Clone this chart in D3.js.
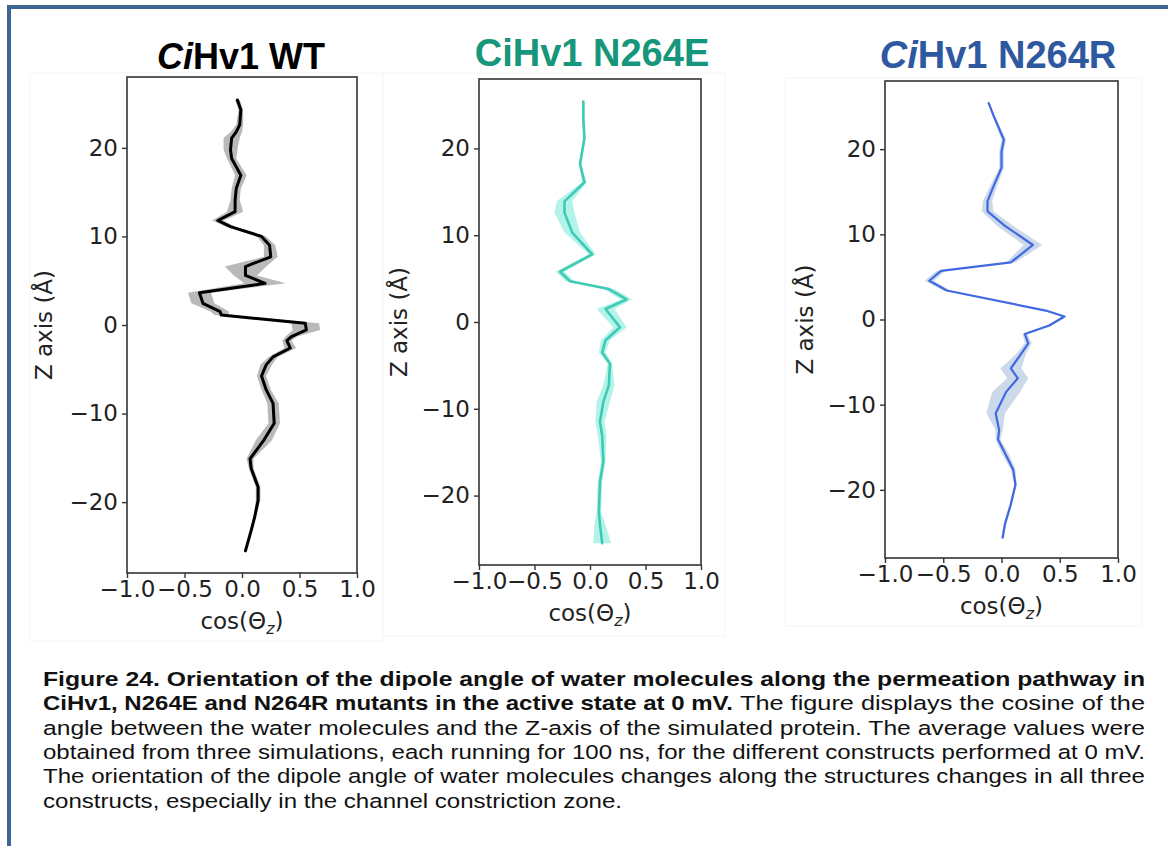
<!DOCTYPE html>
<html><head><meta charset="utf-8">
<script src="https://cdn.jsdelivr.net/npm/d3@7"></script>
<style>
html,body{margin:0;padding:0;background:#fff;}
svg{display:block;}
</style></head>
<body>
<svg id="c" width="1168" height="846"></svg>
<script>
// ---------- DATA ----------
const xTicks = [-1.0, -0.5, 0.0, 0.5, 1.0];
const yTicks = [20, 10, 0, -10, -20];
const titles = ["WT", "N264E", "N264R"];

// CiHv1 WT
const wtZ   = [25.4,24.3,22.6,21.8,21.1,19.8,18.8,16.9,15.4,14.1,12.8,11.8,11.1,10.0,9.0,7.7,6.6,5.6,4.7,3.65,2.45,1.5,1.13,0.2,-0.56,-1.3,-1.77,-2.6,-3.6,-4.5,-5.76,-7.3,-8.85,-11.1,-13.0,-15.1,-16.2,-18.3,-19.8,-21.7,-23.2,-25.5];
const wtCos = [-0.04,-0.01,-0.02,-0.05,-0.09,-0.10,-0.09,-0.01,-0.05,-0.06,-0.06,-0.21,-0.10,0.17,0.24,0.25,0.03,0.03,0.20,-0.37,-0.34,-0.19,-0.18,0.55,0.56,0.43,0.39,0.42,0.27,0.21,0.17,0.21,0.27,0.28,0.19,0.07,0.08,0.14,0.14,0.11,0.08,0.03];
const wtSd  = [0.02,0.02,0.03,0.05,0.07,0.06,0.04,0.05,0.04,0.04,0.07,0.05,0.04,0.04,0.05,0.06,0.18,0.10,0.18,0.10,0.10,0.08,0.06,0.12,0.12,0.05,0.04,0.05,0.04,0.05,0.04,0.04,0.05,0.05,0.07,0.03,0.02,0.02,0.02,0.01,0.01,0.01];

// CiHv1 N264E
const eZ   = [25.4,23.3,21.2,18.2,16.1,13.9,12.6,10.3,7.8,5.8,4.7,3.8,2.6,1.5,-0.6,-2.1,-3.5,-4.8,-7.3,-9.2,-11.5,-13.1,-16.1,-18.4,-21.9,-23.4,-25.5];
const eCos = [-0.06,-0.06,-0.05,-0.09,-0.05,-0.23,-0.23,-0.16,0.02,-0.27,-0.18,0.17,0.33,0.14,0.27,0.14,0.11,0.18,0.17,0.12,0.09,0.11,0.12,0.09,0.08,0.09,0.11];
const eSd  = [0.01,0.01,0.01,0.01,0.02,0.07,0.09,0.07,0.03,0.04,0.04,0.05,0.05,0.08,0.06,0.04,0.03,0.02,0.05,0.06,0.04,0.04,0.02,0.02,0.02,0.05,0.08];

// CiHv1 N264R
const rZ   = [25.4,24.0,21.1,19.7,17.8,15.6,13.9,12.7,11.0,8.75,6.7,5.7,4.55,3.4,1.05,0.35,-0.7,-1.7,-2.8,-4.0,-5.75,-6.9,-8.5,-11.0,-13.0,-14.1,-15.7,-17.6,-19.4,-21.7,-24.0,-25.6];
const rCos = [-0.11,-0.07,0.02,0.0,0.0,-0.07,-0.12,-0.12,0.03,0.27,0.08,-0.52,-0.62,-0.47,0.38,0.54,0.41,0.20,0.23,0.17,0.08,0.14,0.04,-0.05,-0.02,-0.03,0.03,0.10,0.12,0.08,0.03,0.01];
const rSd  = [0.01,0.01,0.02,0.02,0.02,0.03,0.04,0.05,0.07,0.08,0.04,0.04,0.04,0.03,0.02,0.02,0.02,0.02,0.03,0.04,0.09,0.09,0.12,0.08,0.03,0.02,0.03,0.02,0.01,0.01,0.01,0.01];

// ---------- LAYOUT / STYLE ----------
const svg = d3.select("#c");
const tickFont = "'DejaVu Sans', sans-serif";

// outer frame (top + left visible)
svg.append("rect").attr("x", 9).attr("y", 7).attr("width", 1200).attr("height", 900)
  .attr("fill", "none").attr("stroke", "#3e6491").attr("stroke-width", 4);

const panels = [
  {z: wtZ, c: wtCos, sd: wtSd, x0:127, x1:357, y0:77, y1:573, line:"#000000", lw:3, band:"#a8a8a8", bandOp:0.8,
   ylx:52, bg:[30,73,352,568], title:titles[0], tcol:"#000000", tItal:true, tx:241, ty:69, tfs:36},
  {z: eZ, c: eCos, sd: eSd, x0:479, x1:701, y0:79, y1:565, line:"#3fcab4", lw:2.6, band:"#40e0c8", bandOp:0.4,
   ylx:407, bg:[383,73,342,563], title:titles[1], tcol:"#16967a", tItal:false, tx:592, ty:66, tfs:38},
  {z: rZ, c: rCos, sd: rSd, x0:885, x1:1118, y0:81, y1:558, line:"#4169e1", lw:2.2, band:"#b0c4de", bandOp:0.65,
   ylx:813, bg:[785,78,357,548], title:titles[2], tcol:"#2e58a0", tItal:true, tx:998, ty:68, tfs:38}
];

panels.forEach(p => {
  // faint pasted-image outline
  svg.append("rect").attr("x", p.bg[0]).attr("y", p.bg[1]).attr("width", p.bg[2]).attr("height", p.bg[3])
    .attr("fill", "none").attr("stroke", "#f5f5f5").attr("stroke-width", 1);

  const x = d3.scaleLinear().domain([-1, 1]).range([p.x0, p.x1]);
  const y = d3.scaleLinear().domain([-28, 28]).range([p.y1, p.y0]);
  const data = p.z.map((z, i) => ({z, c: p.c[i], s: p.sd[i]}));
  const g = svg.append("g");

  // band
  g.append("path").datum(data)
    .attr("d", d3.area().y(d => y(d.z)).x0(d => x(d.c - d.s)).x1(d => x(d.c + d.s)))
    .attr("fill", p.band).attr("fill-opacity", p.bandOp).attr("stroke", "none");
  // line
  g.append("path").datum(data)
    .attr("d", d3.line().x(d => x(d.c)).y(d => y(d.z)))
    .attr("fill", "none").attr("stroke", p.line).attr("stroke-width", p.lw)
    .attr("stroke-linejoin", "round").attr("stroke-linecap", "round");

  // frame
  g.append("rect").attr("x", p.x0).attr("y", p.y0).attr("width", p.x1 - p.x0).attr("height", p.y1 - p.y0)
    .attr("fill", "none").attr("stroke", "#333").attr("stroke-width", 1.6);

  // axes
  const fmtX = d => d3.format(".1f")(d).replace("-", "\u2212");
  const fmtY = d => String(d).replace("-", "\u2212");
  const ax = g.append("g").attr("transform", `translate(0,${p.y1})`)
    .call(d3.axisBottom(x).tickValues(xTicks).tickFormat(fmtX).tickSize(5).tickPadding(3));
  const ay = g.append("g").attr("transform", `translate(${p.x0},0)`)
    .call(d3.axisLeft(y).tickValues(yTicks).tickFormat(fmtY).tickSize(5).tickPadding(4));
  [ax, ay].forEach(a => {
    a.select(".domain").remove();
    a.selectAll(".tick line").attr("stroke", "#333").attr("stroke-width", 1.4);
    a.selectAll(".tick text").attr("fill", "#222").style("font-family", tickFont).style("font-size", "23px");
  });

  // axis labels
  const xl = g.append("text").attr("x", (p.x0 + p.x1) / 2).attr("y", p.y1 + 56)
    .attr("text-anchor", "middle").style("font-family", tickFont).style("font-size", "23px").attr("fill", "#222");
  xl.append("tspan").text("cos(\u0398");
  xl.append("tspan").text("z").attr("font-style", "italic").attr("font-size", "16px").attr("dy", 5);
  xl.append("tspan").text(")").attr("dy", -5);

  g.append("text").attr("transform", `translate(${p.ylx},${y(0)}) rotate(-90)`)
    .attr("text-anchor", "middle").style("font-family", tickFont).style("font-size", "23px").attr("fill", "#222")
    .text("Z axis (\u00C5)");

  // title
  const t = svg.append("text").attr("x", p.tx).attr("y", p.ty).attr("text-anchor", "middle")
    .style("font-family", "'Liberation Sans', Arial, sans-serif").style("font-weight", "bold")
    .style("font-size", p.tfs + "px").attr("fill", p.tcol);
  t.append("tspan").text("C").attr("font-style", p.tItal ? "italic" : "normal");
  t.append("tspan").text("i").attr("font-style", p.tItal ? "italic" : "normal");
  t.append("tspan").text("Hv1 " + p.title);
});

// ---------- CAPTION ----------
const capFont = "'Liberation Sans', Arial, sans-serif";
const capLines = [
  {y:686, parts:[{t:"Figure 24. Orientation of the dipole angle of water molecules along the permeation pathway in", b:true, x0:43, x1:1145}]},
  {y:710, parts:[{t:"CiHv1, N264E and N264R mutants in the active state at 0 mV.", b:true, x0:43, x1:733},
                 {t:"The figure displays the cosine of the", b:false, x0:740, x1:1145}]},
  {y:735, parts:[{t:"angle between the water molecules and the Z-axis of the simulated protein. The average values were", b:false, x0:43, x1:1145}]},
  {y:759, parts:[{t:"obtained from three simulations, each running for 100 ns, for the different constructs performed at 0 mV.", b:false, x0:43, x1:1145}]},
  {y:783, parts:[{t:"The orientation of the dipole angle of water molecules changes along the structures changes in all three", b:false, x0:43, x1:1145}]},
  {y:808, parts:[{t:"constructs, especially in the channel constriction zone.", b:false, x0:43, x1:622}]}
];
capLines.forEach(l => l.parts.forEach(pt => {
  svg.append("text").attr("x", pt.x0).attr("y", l.y)
    .attr("textLength", pt.x1 - pt.x0).attr("lengthAdjust", "spacingAndGlyphs")
    .style("font-family", capFont).style("font-size", "20.5px")
    .style("font-weight", pt.b ? "bold" : "normal").attr("fill", "#111").text(pt.t);
}));
</script>
</body></html>
